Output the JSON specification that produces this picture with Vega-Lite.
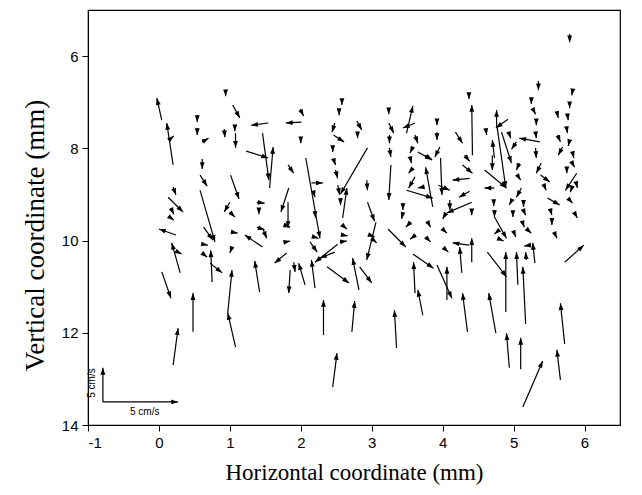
{
  "$schema": "https://vega.github.io/schema/vega-lite/v6.json",
  "width": 532,
  "height": 415,
  "autosize": {"type": "none"},
  "padding": {"left": 88, "top": 10, "right": 22, "bottom": 70},
  "background": "white",
  "config": {"view": {"stroke": "black", "strokeWidth": 1.2}},
  "datasets": {
    "arrows": [
      {"x0":0.04,"y0":7.39,"x1":-0.03,"y1":6.91},{"x0":0.20,"y0":8.36,"x1":0.11,"y1":7.45},{"x0":0.14,"y0":7.82,"x1":0.21,"y1":7.73},
      {"x0":0.54,"y0":7.28,"x1":0.54,"y1":7.43},{"x0":0.54,"y0":7.56,"x1":0.54,"y1":7.71},{"x0":0.61,"y0":7.86,"x1":0.70,"y1":7.78},
      {"x0":0.94,"y0":6.74,"x1":0.94,"y1":6.87},{"x0":1.04,"y0":7.06,"x1":1.14,"y1":7.34},{"x0":0.92,"y0":7.58,"x1":0.93,"y1":7.76},
      {"x0":1.07,"y0":7.54,"x1":1.07,"y1":7.63},{"x0":1.08,"y0":7.67,"x1":1.08,"y1":7.99},{"x0":1.54,"y0":7.45,"x1":1.30,"y1":7.50},
      {"x0":1.23,"y0":8.06,"x1":1.54,"y1":8.21},{"x0":1.46,"y0":7.67,"x1":1.55,"y1":8.69},{"x0":2.01,"y0":7.43,"x1":1.79,"y1":7.45},
      {"x0":1.99,"y0":7.15,"x1":2.04,"y1":7.30},{"x0":2.58,"y0":6.95,"x1":2.58,"y1":7.06},{"x0":2.54,"y0":7.19,"x1":2.54,"y1":7.28},
      {"x0":2.48,"y0":7.45,"x1":2.44,"y1":7.65},{"x0":2.46,"y0":7.71,"x1":2.61,"y1":7.86},{"x0":2.79,"y0":7.41,"x1":2.86,"y1":7.60},
      {"x0":2.80,"y0":7.67,"x1":2.80,"y1":7.78},{"x0":2.00,"y0":7.78,"x1":2.00,"y1":7.89},{"x0":1.56,"y0":8.86,"x1":1.61,"y1":7.97},
      {"x0":2.45,"y0":7.95,"x1":2.45,"y1":8.08},{"x0":2.94,"y0":7.99,"x1":2.56,"y1":8.99},{"x0":3.24,"y0":7.17,"x1":3.24,"y1":7.26},
      {"x0":3.24,"y0":7.45,"x1":3.31,"y1":7.67},{"x0":3.49,"y0":7.67,"x1":3.58,"y1":7.08},{"x0":3.61,"y0":7.45,"x1":3.44,"y1":7.56},
      {"x0":3.25,"y0":7.71,"x1":3.25,"y1":7.89},{"x0":3.92,"y0":7.41,"x1":3.92,"y1":7.50},{"x0":3.92,"y0":7.65,"x1":3.92,"y1":7.82},
      {"x0":3.61,"y0":7.71,"x1":3.65,"y1":7.89},{"x0":3.58,"y0":7.97,"x1":3.54,"y1":8.10},{"x0":3.25,"y0":7.99,"x1":3.27,"y1":8.19},
      {"x0":3.65,"y0":8.08,"x1":3.85,"y1":8.25},{"x0":3.96,"y0":7.97,"x1":3.89,"y1":8.19},{"x0":4.37,"y0":6.85,"x1":4.37,"y1":6.93},
      {"x0":4.42,"y0":8.15,"x1":4.41,"y1":7.06},{"x0":4.18,"y0":7.65,"x1":4.28,"y1":7.89},{"x0":4.31,"y0":8.15,"x1":4.38,"y1":8.28},
      {"x0":5.79,"y0":5.52,"x1":5.79,"y1":5.70},{"x0":5.35,"y0":6.54,"x1":5.35,"y1":6.74},{"x0":5.25,"y0":6.93,"x1":5.25,"y1":7.04},
      {"x0":5.28,"y0":7.17,"x1":5.31,"y1":7.26},{"x0":5.32,"y0":7.41,"x1":5.32,"y1":7.50},{"x0":5.31,"y0":7.65,"x1":5.32,"y1":7.78},
      {"x0":5.37,"y0":7.86,"x1":5.08,"y1":7.78},{"x0":5.31,"y0":7.99,"x1":5.32,"y1":8.21},{"x0":5.83,"y0":6.76,"x1":5.82,"y1":6.85},
      {"x0":5.79,"y0":7.02,"x1":5.79,"y1":7.13},{"x0":5.76,"y0":7.28,"x1":5.77,"y1":7.39},{"x0":5.61,"y0":7.21,"x1":5.63,"y1":7.34},
      {"x0":5.75,"y0":7.58,"x1":5.76,"y1":7.67},{"x0":5.62,"y0":7.71,"x1":5.66,"y1":7.86},{"x0":5.79,"y0":7.82,"x1":5.77,"y1":7.95},
      {"x0":5.69,"y0":7.97,"x1":5.63,"y1":8.15},{"x0":5.83,"y0":8.08,"x1":5.85,"y1":8.21},{"x0":4.93,"y0":7.65,"x1":4.96,"y1":7.78},
      {"x0":5.04,"y0":7.86,"x1":4.97,"y1":8.02},{"x0":4.76,"y0":7.56,"x1":4.76,"y1":7.17},{"x0":4.92,"y0":7.37,"x1":4.75,"y1":7.56},
      {"x0":4.77,"y0":7.56,"x1":4.89,"y1":8.86},{"x0":4.83,"y0":7.65,"x1":4.97,"y1":8.32},{"x0":4.59,"y0":8.47,"x1":4.90,"y1":8.86},
      {"x0":4.61,"y0":7.60,"x1":4.62,"y1":7.71},{"x0":4.73,"y0":8.21,"x1":4.70,"y1":7.82},{"x0":4.70,"y0":8.15,"x1":4.70,"y1":8.47},
      {"x0":0.61,"y0":8.23,"x1":0.61,"y1":8.45},{"x0":0.58,"y0":8.58,"x1":0.68,"y1":8.82},{"x0":1.01,"y0":8.58,"x1":1.13,"y1":9.10},
      {"x0":0.20,"y0":8.84,"x1":0.24,"y1":9.01},{"x0":0.13,"y0":9.06,"x1":0.34,"y1":9.38},{"x0":0.17,"y0":9.30,"x1":0.21,"y1":9.43},
      {"x0":0.15,"y0":9.49,"x1":0.21,"y1":9.56},{"x0":0.58,"y0":8.91,"x1":0.79,"y1":10.03},{"x0":0.63,"y0":9.71,"x1":0.76,"y1":9.99},
      {"x0":1.00,"y0":9.17,"x1":0.92,"y1":9.38},{"x0":1.00,"y0":9.38,"x1":1.07,"y1":9.49},{"x0":1.38,"y0":9.17,"x1":1.49,"y1":9.19},
      {"x0":1.41,"y0":9.34,"x1":1.41,"y1":9.43},{"x0":1.38,"y0":9.71,"x1":1.49,"y1":9.77},{"x0":0.24,"y0":9.88,"x1":0.00,"y1":9.75},
      {"x0":1.04,"y0":9.82,"x1":1.11,"y1":9.84},{"x0":1.46,"y0":10.14,"x1":1.21,"y1":9.88},{"x0":0.62,"y0":10.08,"x1":0.69,"y1":10.10},
      {"x0":0.30,"y0":10.70,"x1":0.18,"y1":10.05},{"x0":0.27,"y0":10.25,"x1":0.32,"y1":10.29},{"x0":0.61,"y0":10.27,"x1":0.68,"y1":10.36},
      {"x0":0.75,"y0":10.90,"x1":0.73,"y1":10.21},{"x0":0.72,"y0":10.49,"x1":0.89,"y1":10.70},{"x0":1.03,"y0":10.14,"x1":1.00,"y1":10.27},
      {"x0":0.97,"y0":11.57,"x1":1.03,"y1":10.64},{"x0":1.42,"y0":11.12,"x1":1.35,"y1":10.44},{"x0":0.04,"y0":10.68,"x1":0.17,"y1":11.25},
      {"x0":0.48,"y0":11.98,"x1":0.48,"y1":11.14},{"x0":0.20,"y0":12.70,"x1":0.27,"y1":11.90},{"x0":1.08,"y0":12.31,"x1":0.97,"y1":11.57},
      {"x0":1.82,"y0":8.36,"x1":1.90,"y1":8.54},{"x0":2.07,"y0":8.21,"x1":2.27,"y1":9.95},{"x0":2.15,"y0":8.75,"x1":2.31,"y1":8.75},
      {"x0":2.18,"y0":8.95,"x1":2.20,"y1":9.06},{"x0":2.20,"y0":9.40,"x1":2.21,"y1":9.51},{"x0":2.46,"y0":8.23,"x1":2.49,"y1":8.36},
      {"x0":2.49,"y0":8.47,"x1":2.52,"y1":8.65},{"x0":2.52,"y0":8.80,"x1":2.55,"y1":9.01},{"x0":2.59,"y0":9.51,"x1":2.65,"y1":8.86},
      {"x0":2.56,"y0":9.08,"x1":2.56,"y1":9.23},{"x0":2.93,"y0":8.69,"x1":2.94,"y1":8.91},{"x0":2.94,"y0":9.17,"x1":3.04,"y1":9.58},
      {"x0":3.06,"y0":9.60,"x1":2.93,"y1":10.42},{"x0":1.83,"y0":8.86,"x1":1.72,"y1":9.38},{"x0":1.82,"y0":9.17,"x1":1.82,"y1":9.73},
      {"x0":1.76,"y0":9.66,"x1":1.85,"y1":9.71},{"x0":1.46,"y0":9.73,"x1":1.52,"y1":9.95},{"x0":1.79,"y0":10.03,"x1":1.85,"y1":10.01},
      {"x0":2.62,"y0":9.71,"x1":2.65,"y1":9.75},{"x0":2.59,"y0":9.88,"x1":2.66,"y1":9.90},{"x0":2.55,"y0":10.03,"x1":2.65,"y1":10.01},
      {"x0":2.18,"y0":9.92,"x1":2.25,"y1":9.95},{"x0":2.13,"y0":10.03,"x1":2.23,"y1":10.25},{"x0":2.52,"y0":10.08,"x1":2.20,"y1":10.47},
      {"x0":2.48,"y0":10.25,"x1":2.27,"y1":10.38},{"x0":1.80,"y0":10.27,"x1":1.63,"y1":10.49},{"x0":1.90,"y0":10.47,"x1":1.92,"y1":10.68},
      {"x0":2.06,"y0":10.96,"x1":1.97,"y1":10.49},{"x0":2.20,"y0":11.03,"x1":2.15,"y1":10.42},{"x0":2.37,"y0":10.57,"x1":2.68,"y1":10.92},
      {"x0":2.82,"y0":11.07,"x1":2.73,"y1":10.38},{"x0":2.83,"y0":10.57,"x1":3.00,"y1":10.92},{"x0":1.85,"y0":10.64,"x1":1.83,"y1":11.14},
      {"x0":2.32,"y0":12.05,"x1":2.32,"y1":11.29},{"x0":2.72,"y0":11.98,"x1":2.76,"y1":11.31},{"x0":2.45,"y0":13.18,"x1":2.51,"y1":12.44},
      {"x0":3.27,"y0":8.36,"x1":3.24,"y1":9.12},{"x0":3.54,"y0":8.19,"x1":3.56,"y1":8.32},{"x0":3.58,"y0":8.43,"x1":3.52,"y1":8.54},
      {"x0":3.61,"y0":8.62,"x1":3.52,"y1":8.86},{"x0":3.72,"y0":8.84,"x1":3.65,"y1":8.86},{"x0":3.75,"y0":8.15,"x1":3.85,"y1":8.25},
      {"x0":3.86,"y0":9.27,"x1":3.76,"y1":8.41},{"x0":3.49,"y0":8.91,"x1":3.86,"y1":9.08},{"x0":3.97,"y0":8.21,"x1":3.99,"y1":9.01},
      {"x0":3.94,"y0":8.80,"x1":4.10,"y1":8.91},{"x0":4.10,"y0":9.12,"x1":4.10,"y1":9.34},{"x0":4.41,"y0":9.17,"x1":4.06,"y1":9.40},
      {"x0":4.38,"y0":8.93,"x1":4.23,"y1":9.06},{"x0":4.38,"y0":8.65,"x1":4.14,"y1":8.69},{"x0":4.28,"y0":8.36,"x1":4.42,"y1":8.54},
      {"x0":3.44,"y0":9.19,"x1":3.44,"y1":9.34},{"x0":3.44,"y0":9.40,"x1":3.42,"y1":9.53},{"x0":4.03,"y0":9.45,"x1":4.00,"y1":9.53},
      {"x0":4.41,"y0":9.36,"x1":4.41,"y1":9.45},{"x0":3.55,"y0":9.60,"x1":3.48,"y1":9.71},{"x0":3.79,"y0":9.60,"x1":3.83,"y1":9.71},
      {"x0":4.00,"y0":9.75,"x1":4.06,"y1":9.84},{"x0":3.62,"y0":9.88,"x1":3.54,"y1":9.97},{"x0":3.76,"y0":9.92,"x1":3.83,"y1":10.03},
      {"x0":3.23,"y0":9.75,"x1":3.48,"y1":10.14},{"x0":4.03,"y0":10.18,"x1":4.08,"y1":10.25},{"x0":4.37,"y0":10.10,"x1":4.14,"y1":10.05},
      {"x0":4.41,"y0":10.47,"x1":4.41,"y1":9.95},{"x0":4.27,"y0":10.70,"x1":4.24,"y1":10.14},{"x0":3.58,"y0":10.29,"x1":3.87,"y1":10.60},
      {"x0":3.61,"y0":11.14,"x1":3.59,"y1":10.47},{"x0":3.92,"y0":10.53,"x1":4.13,"y1":11.25},{"x0":4.06,"y0":11.29,"x1":4.06,"y1":10.57},
      {"x0":2.97,"y0":9.88,"x1":3.04,"y1":9.92},{"x0":3.04,"y0":10.01,"x1":3.07,"y1":10.05},{"x0":3.72,"y0":11.62,"x1":3.65,"y1":11.07},
      {"x0":3.35,"y0":12.33,"x1":3.32,"y1":11.51},{"x0":4.35,"y0":11.98,"x1":4.28,"y1":11.14},{"x0":4.73,"y0":8.86,"x1":4.59,"y1":8.86},
      {"x0":5.08,"y0":8.32,"x1":5.04,"y1":8.47},{"x0":5.07,"y0":8.62,"x1":5.10,"y1":8.69},{"x0":5.39,"y0":8.32,"x1":5.32,"y1":8.54},
      {"x0":5.38,"y0":8.58,"x1":5.51,"y1":8.73},{"x0":5.44,"y0":8.84,"x1":5.46,"y1":8.91},{"x0":5.75,"y0":8.47,"x1":5.75,"y1":8.54},
      {"x0":5.82,"y0":8.30,"x1":5.86,"y1":8.41},{"x0":5.89,"y0":8.54,"x1":5.73,"y1":8.91},{"x0":5.89,"y0":8.80,"x1":5.90,"y1":8.86},
      {"x0":5.82,"y0":8.86,"x1":5.80,"y1":8.95},{"x0":5.11,"y0":8.86,"x1":5.04,"y1":9.06},{"x0":5.48,"y0":9.08,"x1":5.65,"y1":9.23},
      {"x0":5.79,"y0":9.12,"x1":5.83,"y1":9.19},{"x0":4.72,"y0":9.12,"x1":4.72,"y1":9.25},{"x0":4.96,"y0":9.17,"x1":4.94,"y1":9.23},
      {"x0":5.14,"y0":9.17,"x1":5.14,"y1":9.27},{"x0":5.52,"y0":9.34,"x1":5.54,"y1":9.45},{"x0":5.87,"y0":9.43,"x1":5.90,"y1":9.51},
      {"x0":4.73,"y0":9.34,"x1":4.73,"y1":9.49},{"x0":4.99,"y0":9.38,"x1":4.99,"y1":9.49},{"x0":5.15,"y0":9.38,"x1":5.17,"y1":9.45},
      {"x0":5.54,"y0":9.56,"x1":5.54,"y1":9.66},{"x0":4.73,"y0":9.49,"x1":4.90,"y1":9.95},{"x0":5.13,"y0":9.62,"x1":5.15,"y1":9.71},
      {"x0":5.20,"y0":9.77,"x1":5.25,"y1":9.84},{"x0":4.76,"y0":9.82,"x1":4.73,"y1":9.86},{"x0":5.01,"y0":9.84,"x1":5.03,"y1":9.92},
      {"x0":5.59,"y0":9.88,"x1":5.61,"y1":9.95},{"x0":4.83,"y0":9.99,"x1":4.86,"y1":10.01},{"x0":5.30,"y0":10.49,"x1":5.27,"y1":10.05},
      {"x0":5.23,"y0":10.10,"x1":5.15,"y1":10.12},{"x0":5.18,"y0":10.42,"x1":5.17,"y1":10.25},{"x0":5.72,"y0":10.47,"x1":5.99,"y1":10.10},
      {"x0":4.63,"y0":10.25,"x1":4.90,"y1":10.79},{"x0":4.89,"y0":11.55,"x1":4.89,"y1":10.25},{"x0":5.06,"y0":10.96,"x1":5.04,"y1":10.25},
      {"x0":5.17,"y0":11.81,"x1":5.13,"y1":10.57},{"x0":4.75,"y0":12.01,"x1":4.65,"y1":11.14},{"x0":4.94,"y0":12.76,"x1":4.90,"y1":12.01},
      {"x0":5.10,"y0":12.79,"x1":5.10,"y1":12.11},{"x0":5.72,"y0":12.24,"x1":5.66,"y1":11.36},{"x0":5.66,"y0":13.02,"x1":5.61,"y1":12.37},
      {"x0":5.13,"y0":13.61,"x1":5.41,"y1":12.61},
      {"x0":-0.79,"y0":13.50,"x1":-0.79,"y1":12.76},{"x0":-0.79,"y0":13.50,"x1":0.27,"y1":13.50}
    ],
    "labels": [
      {"x":-0.94,"y":13.09,"text":"5 cm/s","rot":270},
      {"x":-0.20,"y":13.72,"text":"5 cm/s","rot":0}
    ]
  },
  "layer": [
    {
      "data": {"name": "arrows"},
      "mark": {"type": "rule", "color": "black", "strokeWidth": 1.2},
      "encoding": {
        "x": {"field": "x0", "type": "quantitative",
              "scale": {"domain": [-1, 6.5], "nice": false, "zero": false},
              "axis": {"values": [-1,0,1,2,3,4,5,6], "labelExpr": "'' + datum.value", "title": "Horizontal coordinate (mm)", "grid": false,
                       "domainColor": "black", "tickColor": "black", "tickSize": 6, "labelColor": "black",
                       "labelFont": "Liberation Sans", "labelFontSize": 15, "labelPadding": 4,
                       "titleFont": "Liberation Serif", "titleFontSize": 23, "titleFontWeight": "normal", "titleColor": "black", "titlePadding": 11}},
        "y": {"field": "y0", "type": "quantitative",
              "scale": {"domain": [5, 14], "reverse": true, "nice": false, "zero": false},
              "axis": {"values": [6,8,10,12,14], "labelExpr": "'' + datum.value", "title": "Vertical coordinate (mm)", "grid": false,
                       "domainColor": "black", "tickColor": "black", "tickSize": 6, "labelColor": "black",
                       "labelFont": "Liberation Sans", "labelFontSize": 15, "labelPadding": 4,
                       "titleFont": "Liberation Serif", "titleFontSize": 27, "titleFontWeight": "normal", "titleColor": "black", "titlePadding": 12, "titleY": 225}},
        "x2": {"field": "x1"},
        "y2": {"field": "y1"}
      }
    },
    {
      "data": {"name": "arrows"},
      "transform": [
        {"calculate": "(atan2((datum.x1 - datum.x0) * 71, -(datum.y1 - datum.y0) * 46.125) * 180 / PI + 360) % 360", "as": "ang"}
      ],
      "mark": {"type": "point", "filled": true, "color": "black", "opacity": 1, "size": 42, "strokeWidth": 0,
               "shape": "M0,0L0.75,2.1L-0.75,2.1Z"},
      "encoding": {
        "x": {"field": "x1", "type": "quantitative"},
        "y": {"field": "y1", "type": "quantitative"},
        "angle": {"field": "ang", "type": "quantitative", "scale": null}
      }
    },
    {
      "data": {"name": "labels"},
      "mark": {"type": "text", "font": "Liberation Sans", "fontSize": 10, "color": "black", "align": "center", "baseline": "middle"},
      "encoding": {
        "x": {"field": "x", "type": "quantitative"},
        "y": {"field": "y", "type": "quantitative"},
        "text": {"field": "text"},
        "angle": {"field": "rot", "type": "quantitative", "scale": null}
      }
    }
  ]
}
